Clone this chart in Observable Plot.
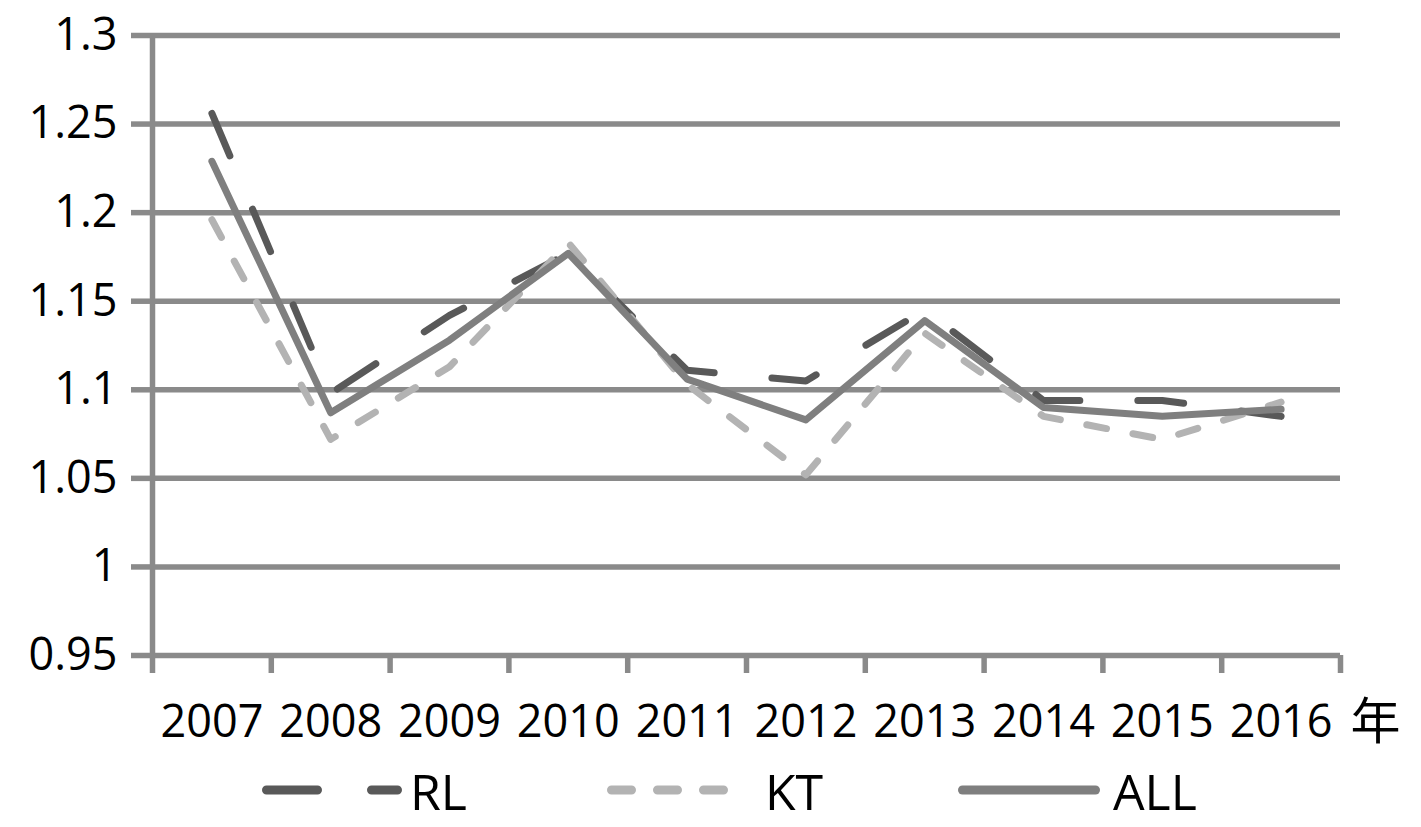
<!DOCTYPE html>
<html>
<head>
<meta charset="utf-8">
<script src="https://cdn.jsdelivr.net/npm/d3@7"></script>
<script src="https://cdn.jsdelivr.net/npm/@observablehq/plot@0.6"></script>
<style>
  body { margin: 0; background: #fff; }
  #chart { width: 1421px; }
  #legend { position: relative; width: 1421px; height: 72px; font-family: "Open Sans", sans-serif; }
  .sw { position: absolute; top: 25px; }
  .lab { position: absolute; top: 0; line-height: 72px; font-size: 50px; color: #000; }
</style>
</head>
<body>
<div id="chart"></div>
<div id="legend"></div>
<script>
const years = [2007, 2008, 2009, 2010, 2011, 2012, 2013, 2014, 2015, 2016];
const rlValues  = [1.256, 1.098, 1.142, 1.177, 1.111, 1.105, 1.145, 1.094, 1.094, 1.085];
const ktValues  = [1.196, 1.072, 1.113, 1.183, 1.103, 1.052, 1.132, 1.085, 1.072, 1.093];
const allValues = [1.229, 1.087, 1.128, 1.177, 1.106, 1.083, 1.139, 1.090, 1.085, 1.089];
const yTicks = [0.95, 1, 1.05, 1.1, 1.15, 1.2, 1.25, 1.3];
const seriesNames = ["RL", "KT", "ALL"];
const unitLabel = "年";

const gridColor = "#8a8a8a";
const styles = {
  RL:  {stroke: "#595959", dash: "46,58"},
  KT:  {stroke: "#b3b3b3", dash: "20,27"},
  ALL: {stroke: "#7f7f7f", dash: null}
};

const seriesValues = {RL: rlValues, KT: ktValues, ALL: allValues};
const boundaries = years.map(y => y - 0.5).concat([years[years.length - 1] + 0.5]);

const lineMarks = seriesNames.map(name => {
  const data = years.map((y, i) => ({year: y, value: seriesValues[name][i]}));
  return Plot.line(data, {
    x: "year", y: "value",
    stroke: styles[name].stroke, strokeWidth: 7,
    strokeLinecap: "round", strokeLinejoin: "round",
    strokeDasharray: styles[name].dash || undefined
  });
});

const chart = Plot.plot({
  width: 1421,
  height: 755,
  marginLeft: 152,
  marginRight: 81,
  marginTop: 35,
  marginBottom: 100,
  x: {domain: [boundaries[0], boundaries[boundaries.length - 1]], label: null},
  y: {domain: [0.95, 1.3], label: null},
  style: {fontFamily: "'Open Sans', sans-serif", fontSize: "45px", background: "#fff", color: "#000", overflow: "visible"},
  marks: [
    Plot.ruleY(yTicks, {stroke: gridColor, strokeWidth: 5.5}),
    Plot.axisY({ticks: yTicks, tickSize: 21, tickPadding: 14, stroke: gridColor, strokeWidth: 5.5,
      tickFormat: d => String(+d.toFixed(2)), fontSize: 45, label: null}),
    Plot.ruleX([boundaries[0]], {stroke: gridColor, strokeWidth: 5.5}),
    Plot.axisX({ticks: boundaries, tickSize: 18, stroke: gridColor, strokeWidth: 5.5, tickFormat: () => "", label: null}),
    Plot.axisX({ticks: years, tickSize: 0, tickPadding: 50, tickFormat: d => String(d), fontSize: 45, label: null}),
    ...lineMarks,
    Plot.text([unitLabel], {text: d => d, frameAnchor: "bottom-right", dx: 10, dy: 67,
      textAnchor: "start", lineAnchor: "middle", fontSize: 50,
      fontFamily: "'Noto Sans CJK SC', sans-serif", fill: "#000"})
  ]
});
document.getElementById("chart").appendChild(chart);

// Legend
const legend = d3.select("#legend");
const legendItems = [
  {name: "RL", left: 262, width: 140, dash: "51,54", x2: 135.5, text: 410},
  {name: "KT", left: 607, width: 140, dash: "20,26", x2: 116.5, text: 765},
  {name: "ALL", left: 958, width: 142, dash: null, x2: 137.5, text: 1113}
];
legendItems.forEach(it => {
  const svg = legend.append("svg").attr("class", "sw")
    .style("left", it.left + "px").attr("width", it.width).attr("height", 20);
  svg.append("line").attr("x1", 4.5).attr("x2", it.x2).attr("y1", 10).attr("y2", 10)
    .attr("stroke", styles[it.name].stroke).attr("stroke-width", 9)
    .attr("stroke-linecap", "round")
    .attr("stroke-dasharray", it.dash);
  legend.append("div").attr("class", "lab").style("left", it.text + "px").text(it.name);
});
</script>
</body>
</html>
